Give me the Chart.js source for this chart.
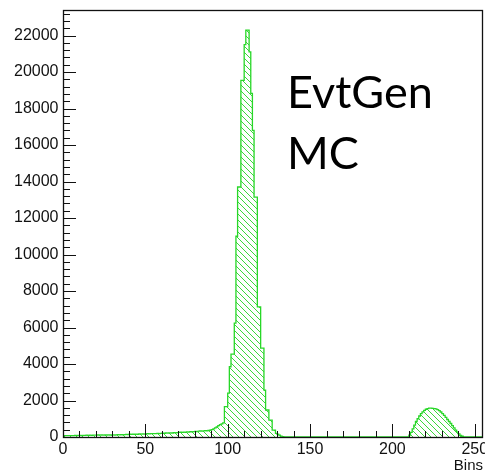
<!DOCTYPE html>
<html><head><meta charset="utf-8">
<script src="https://cdn.jsdelivr.net/npm/chart.js@4"></script>
<style>html,body{margin:0;padding:0;background:#fff;}#wrap{width:485px;height:475px;position:relative;}</style>
</head><body><div id="wrap"><canvas id="c" width="485" height="475"></canvas></div>
<script>
// ---- data ----
const binStart = 0;
const binWidth = 1;
const counts = [
  60,70,70,80,70,80,80,90,80,90,
  90,80,90,90,100,90,100,90,100,100,
  100,110,100,110,100,110,110,120,110,120,
  120,110,120,130,120,130,120,130,140,130,
  150,140,160,150,160,150,170,160,170,160,
  170,180,170,180,190,180,190,200,190,200,
  210,200,220,210,220,230,220,240,230,240,
  250,260,250,270,260,280,270,290,280,300,
  310,300,320,330,320,340,350,340,360,370,
  400,440,500,560,620,680,720,770,1660,1660,
  2400,3850,4540,4540,6240,11000,13700,13700,19540,19540,
  21500,22300,22300,21100,18830,16800,13150,13150,7130,7130,
  4870,4870,2570,1480,1480,930,930,380,380,200,
  150,100,50,20,10,0,0,0,0,0,
  0,0,0,0,0,0,0,0,0,0,
  0,0,0,0,0,0,0,0,0,0,
  0,0,0,0,0,0,0,0,0,0,
  0,0,0,0,0,0,0,0,0,0,
  0,0,0,0,0,0,0,0,0,0,
  0,0,0,0,0,0,0,0,0,0,
  0,0,0,0,0,0,0,0,0,0,
  100,250,450,650,850,1000,1150,1280,1380,1460,
  1520,1560,1580,1580,1570,1560,1540,1500,1440,1370,
  1280,1180,1070,960,850,740,620,500,380,270,
  170,90,40,0,0,0,0,0,0,0,
  0,0,0,0,0
];
const xTickLabels = [0, 50, 100, 150, 200, 250];
const yTickLabels = [0, 2000, 4000, 6000, 8000, 10000, 12000, 14000, 16000, 18000, 20000, 22000];
const xMinorStep = 10;
const yMinorStep = 400;
const xMin = 0, xMax = 255;
const yMin = 0, yMax = 23400;
const xTitle = 'Bins';
const noteLines = ['EvtGen', 'MC'];

// ---- build ----
const points = counts.map((v, i) => ({x: binStart + i * binWidth, y: v}));
points.push({x: binStart + counts.length * binWidth, y: 0});

const canvas = document.getElementById('c');
const tile = document.createElement('canvas');
tile.width = 6; tile.height = 6;
const t = tile.getContext('2d');
t.strokeStyle = 'rgb(60,215,60)';
t.lineWidth = 1;
t.beginPath();
t.moveTo(0, 0); t.lineTo(6, 6);
t.moveTo(-1, 5); t.lineTo(1, 7);
t.moveTo(5, -1); t.lineTo(7, 1);
t.stroke();
const hatch = canvas.getContext('2d').createPattern(tile, 'repeat');

const framePlugin = {
  id: 'frame',
  afterDatasetsDraw(chart) {
    const ctx = chart.ctx, a = chart.chartArea;
    const xs = chart.scales.x, ys = chart.scales.y;
    ctx.save();
    ctx.strokeStyle = '#111';
    ctx.lineWidth = 1;
    ctx.beginPath();
    for (let v = yMin; v <= yMax; v += yMinorStep) {
      const py = Math.round(ys.getPixelForValue(v)) + 0.5;
      const len = yTickLabels.includes(v) ? 13 : 7;
      ctx.moveTo(a.left, py); ctx.lineTo(a.left + len, py);
    }
    for (let v = xMin; v <= xMax; v += xMinorStep) {
      const px = Math.round(xs.getPixelForValue(v)) + 0.5;
      const len = xTickLabels.includes(v) ? 13 : 6;
      ctx.moveTo(px, a.bottom); ctx.lineTo(px, a.bottom - len);
    }
    ctx.stroke();
    ctx.lineWidth = 1.3;
    ctx.strokeRect(Math.round(a.left) + 0.5, Math.round(a.top) + 0.5,
                   Math.round(a.right - a.left) - 1, Math.round(a.bottom - a.top));
    ctx.restore();
  },
  afterDraw(chart) {
    const ctx = chart.ctx;
    ctx.save();
    ctx.fillStyle = '#000';
    ctx.font = '45px Lato';
    ctx.textAlign = 'left';
    ctx.textBaseline = 'alphabetic';
    ctx.fillText(noteLines[0], 287, 108);
    ctx.fillText(noteLines[1], 287, 169);
    ctx.restore();
  }
};

new Chart(canvas, {
  type: 'line',
  data: {
    datasets: [{
      data: points,
      stepped: true,
      fill: 'origin',
      borderColor: 'rgb(40,215,40)',
      borderWidth: 1.3,
      backgroundColor: hatch,
      pointRadius: 0,
      tension: 0
    }]
  },
  options: {
    responsive: false,
    animation: false,
    layout: {padding: {top: 10, right: 2, left: 0, bottom: 0}},
    plugins: {legend: {display: false}, tooltip: {enabled: false}},
    scales: {
      x: {
        type: 'linear', min: xMin, max: xMax,
        grid: {display: false, drawTicks: false}, border: {display: false},
        afterBuildTicks: s => { s.ticks = xTickLabels.map(v => ({value: v})); },
        afterFit: s => { s.height = 38; s.paddingLeft = 0; s.paddingRight = 0; },
        ticks: {
          font: {family: 'Liberation Sans', size: 16}, color: '#111',
          padding: 3, maxRotation: 0, autoSkip: false,
          callback: v => String(v)
        },
        title: {
          display: true, text: xTitle, align: 'end', color: '#111',
          font: {family: 'Liberation Sans', size: 15}, padding: {top: 0, bottom: 0}
        }
      },
      y: {
        type: 'linear', min: yMin, max: yMax,
        grid: {display: false, drawTicks: false}, border: {display: false},
        afterBuildTicks: s => { s.ticks = yTickLabels.map(v => ({value: v})); },
        afterFit: s => { s.width = 63; s.paddingTop = 0; s.paddingBottom = 0; },
        ticks: {
          font: {family: 'Liberation Sans', size: 16}, color: '#111',
          padding: 4.5, autoSkip: false,
          callback: v => String(v)
        }
      }
    }
  },
  plugins: [framePlugin]
});
</script>
</body></html>
